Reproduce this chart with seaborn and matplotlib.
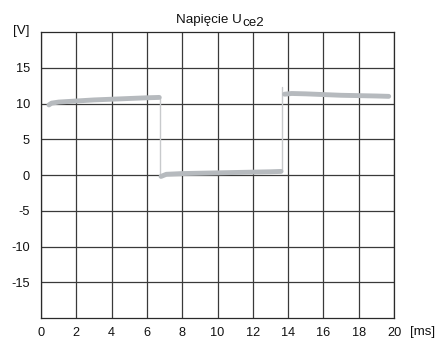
import matplotlib
matplotlib.use("Agg")
import matplotlib.pyplot as plt
from matplotlib import font_manager
import seaborn as sns
import pandas as pd

# Uce2 trace, split into its three flat sections
t_high1 = [0.45, 0.6, 1.0, 2.0, 3.0, 4.0, 5.0, 6.0, 6.7]
u_high1 = [9.8, 10.05, 10.2, 10.35, 10.5, 10.6, 10.7, 10.8, 10.85]
t_low = [6.8, 7.1, 8.0, 9.0, 10.0, 11.0, 12.0, 13.0, 13.6]
u_low = [-0.2, 0.1, 0.2, 0.25, 0.3, 0.35, 0.4, 0.45, 0.5]
t_high2 = [13.8, 14.2, 15.0, 16.0, 17.0, 18.0, 19.0, 19.7]
u_high2 = [11.3, 11.4, 11.35, 11.25, 11.15, 11.1, 11.05, 11.0]

# switching edges
t_edge_fall = [6.75, 6.75]
u_edge_fall = [10.85, -0.3]
t_edge_rise = [13.65, 13.65]
u_edge_rise = [0.5, 12.3]

x_ticks = [0, 2, 4, 6, 8, 10, 12, 14, 16, 18, 20]
y_ticks = [-15, -10, -5, 0, 5, 10, 15]

sns.set_style("white")

# pick the regular-width Liberation Sans face explicitly
regular = [f for f in font_manager.fontManager.ttflist
           if f.name == "Liberation Sans" and f.style == "normal"
           and f.weight in (400, "normal", "regular")]
if regular:
    font_manager.fontManager.addfont(regular[0].fname)
plt.rcParams["font.family"] = ["Liberation Sans", "DejaVu Sans"]

FS = 9.2
INK = "#111111"
W, H = 436, 342

fig = plt.figure(figsize=(4.36, 3.42), dpi=100)
ax = fig.add_axes([41 / W, 1 - 318 / H, 353 / W, 286 / H])

trace_color = "#b6babe"
edge_color = "#c8cacc"

for t, u in [(t_edge_fall, u_edge_fall), (t_edge_rise, u_edge_rise)]:
    sns.lineplot(x=t, y=u, ax=ax, color=edge_color, linewidth=1.0,
                 sort=False, estimator=None)

for t, u in [(t_high1, u_high1), (t_low, u_low), (t_high2, u_high2)]:
    sns.lineplot(data=pd.DataFrame({"t": t, "u": u}), x="t", y="u", ax=ax,
                 color=trace_color, linewidth=3.5, sort=False, estimator=None,
                 solid_capstyle="round")

ax.set_xlim(0, 20)
ax.set_ylim(-20, 20)
ax.set_xticks(x_ticks)
ax.set_yticks(y_ticks)
ax.set_xticklabels([str(v) for v in x_ticks])
ax.set_yticklabels([str(v) for v in y_ticks])
ax.tick_params(axis="y", length=0, labelsize=FS, colors=INK, pad=8)
ax.tick_params(axis="x", length=0, labelsize=FS, colors=INK, pad=6.5)
ax.set_xlabel("")
ax.set_ylabel("")

ax.set_axisbelow(True)
ax.grid(True, color="#3a3a3a", linewidth=0.9)
for s in ax.spines.values():
    s.set_color("#2a2a2a")
    s.set_linewidth(0.9)

# title with subscript, built from two text pieces on a shared baseline
base_y = 1 - 23.5 / H
main = fig.text(176 / W, base_y, "Napięcie U", ha="left",
                va="baseline", fontsize=FS + 0.4, color=INK)
fig.canvas.draw()
x_end = main.get_window_extent().x1 / fig.bbox.width
fig.text(x_end + 1 / W, base_y - 3 / H, "ce2", ha="left", va="baseline",
         fontsize=FS + 0.4, color=INK)

fig.text(29 / W, 1 - 31 / H, "[V]", ha="right", va="center",
         fontsize=FS + 0.5, color=INK)
fig.text(410 / W, 1 - 335 / H, "[ms]", ha="left", va="baseline",
         fontsize=FS + 0.3, color=INK)

fig.savefig("out.png", dpi=100)
